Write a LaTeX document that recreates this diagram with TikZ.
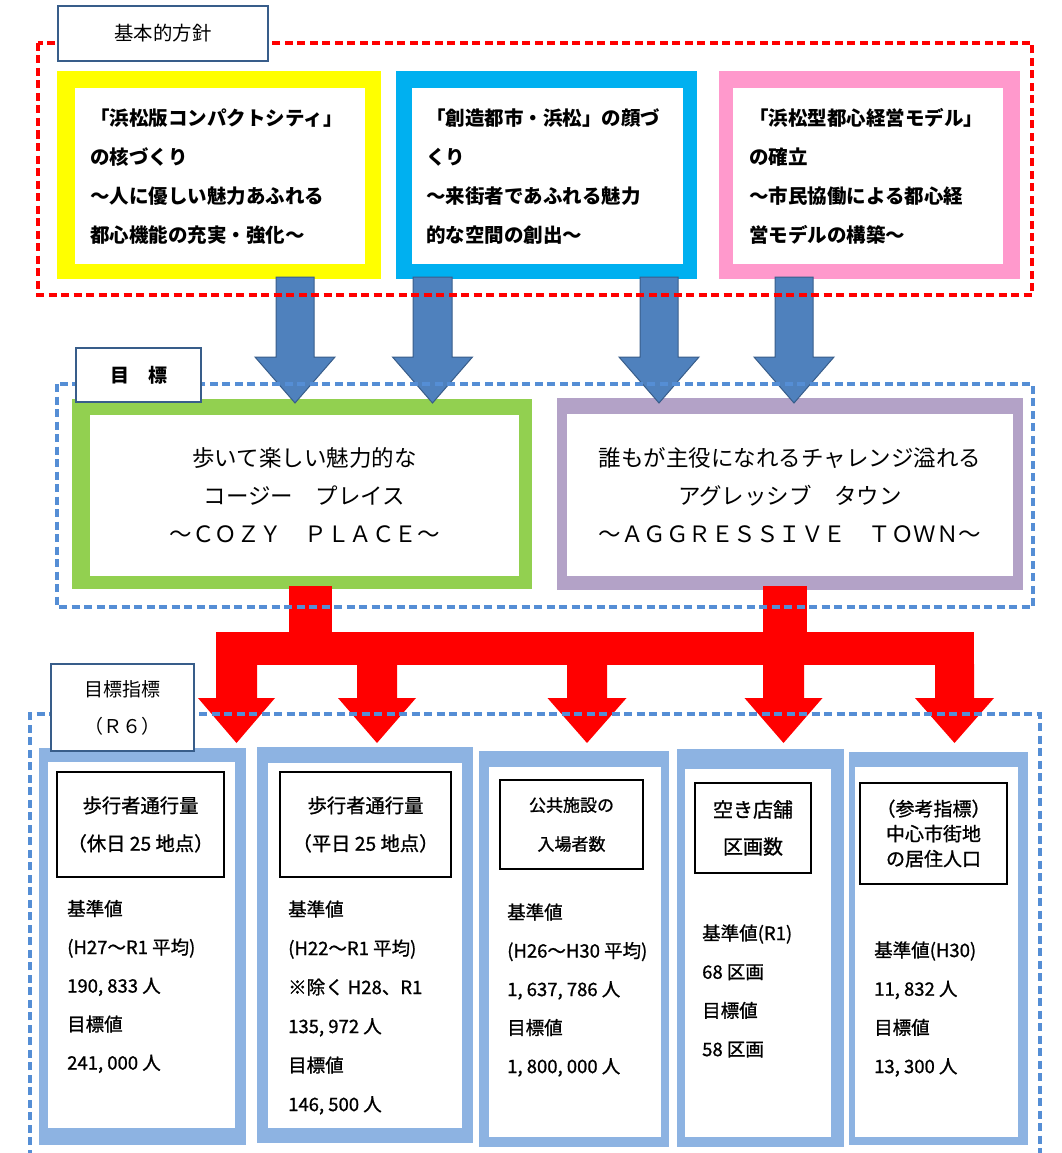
\documentclass[tikz,border=0pt]{standalone}
\usepackage{fontspec}
\setmainfont{Noto Sans CJK JP}
\newfontfamily\jp{Noto Sans CJK JP}
\newfontfamily\jpm{Noto Sans CJK JP}[FakeBold=1]
\definecolor{cyel}{HTML}{FFFF00}
\definecolor{cblu}{HTML}{00B0F0}
\definecolor{cpnk}{HTML}{FF99CC}
\definecolor{cgrn}{HTML}{92D050}
\definecolor{cpur}{HTML}{B3A2C7}
\definecolor{clb}{HTML}{8DB3E2}
\definecolor{dashblue}{HTML}{558ED5}
\definecolor{lblborder}{HTML}{385D8A}
\definecolor{barfill}{HTML}{4F81BD}
\definecolor{barline}{HTML}{385D8A}
\newcommand\myvarrow[7]{\path[#1] ({#2-#3},#5) -- ({#2+#3},#5) -- ({#2+#3},#6) -- ({#2+#4},#6) -- (#2,#7) -- ({#2-#4},#6) -- ({#2-#3},#6) -- cycle;}
\tikzset{
  frameR/.style={draw=red, line width=3.5pt, dash pattern=on 8pt off 4.5pt},
  frameB/.style={draw=dashblue, line width=3.2pt, dash pattern=on 8pt off 4.5pt},
  lbl/.style={draw=lblborder, fill=white, line width=2pt, inner sep=0pt, anchor=north west},
  barrow/.style={fill=barfill, draw=barline, line width=1pt},
  rarrow/.style={fill=red},
  topt/.style={font={\jp\bfseries\fontsize{19.5}{39}\selectfont}, align=left, inner sep=0pt, anchor=west},
  midt/.style={font={\jp\fontsize{22.5}{38}\selectfont}, align=center, inner sep=0pt},
  ttl/.style={draw=black, fill=white, line width=2pt, inner sep=0pt, anchor=north west, align=center},
  bodyt/.style={font={\jpm\fontsize{18.5}{38.5}\selectfont}, align=left, inner sep=0pt, anchor=west},
}
\begin{document}
\begin{tikzpicture}[x=1pt,y=-1pt]
\useasboundingbox (0,0) rectangle (1062,1153);
% ---------- top policy boxes
\fill[cyel] (57,71) rectangle (381,279);
\fill[white] (75,88) rectangle (365,264);
\fill[cblu] (396,71) rectangle (697,279);
\fill[white] (412,88) rectangle (683,264);
\fill[cpnk] (719,71) rectangle (1020,279);
\fill[white] (733,88) rectangle (1003,264);
\node[topt] (p1) at (90,176.5) {「浜松版コンパクトシティ」\\の核づくり\\～人に優しい魅力あふれる\\都心機能の充実・強化～};
\node[topt] (p2) at (426,176.5) {「創造都市・浜松」の顔づ\\くり\\～来街者であふれる魅力\\的な空間の創出～};
\node[topt] (p3) at (749,176.5) {「浜松型都心経営モデル」\\の確立\\～市民協働による都心経\\営モデルの構築～};
% ---------- goal boxes
\fill[cgrn] (72,399) rectangle (532,589);
\fill[white] (90,415) rectangle (519,576);
\fill[cpur] (557,398) rectangle (1023,590);
\fill[white] (567,414) rectangle (1013,576);
\node[midt] (g1) at (304.5,495) {歩いて楽しい魅力的な\\コージー　プレイス\\～ＣＯＺＹ　ＰＬＡＣＥ～};
\node[midt] (g2) at (790,495) {誰もが主役になれるチャレンジ溢れる\\アグレッシブ　タウン\\～ＡＧＧＲＥＳＳＩＶＥ　ＴＯＷＮ～};
% ---------- blue block arrows
\myvarrow{barrow}{295}{19}{40}{277}{357}{403}
\myvarrow{barrow}{432.5}{19.5}{40}{277}{357}{403}
\myvarrow{barrow}{659}{19}{40}{277}{357}{403}
\myvarrow{barrow}{794}{19}{40}{277}{357}{403}
% ---------- red block arrows
\fill[red] (289,586) rectangle (332,665);
\fill[red] (763,586) rectangle (807,665);
\fill[red] (216,632) rectangle (974,665);
\myvarrow{rarrow}{236.5}{20.5}{38.5}{664}{698}{743}
\myvarrow{rarrow}{377}{20}{39}{664}{698}{743}
\myvarrow{rarrow}{587}{20}{39.5}{664}{698}{743}
\myvarrow{rarrow}{783.5}{20.5}{39}{664}{698}{743}
\myvarrow{rarrow}{954.5}{19.5}{39.5}{664}{698}{743}
% ---------- indicator boxes
\fill[clb] (39,748) rectangle (246,1145);
\fill[white] (48,762) rectangle (235,1128);
\fill[clb] (257,747) rectangle (473,1143);
\fill[white] (268,763) rectangle (462,1128);
\fill[clb] (479,751) rectangle (669,1147);
\fill[white] (489,767) rectangle (661,1137);
\fill[clb] (677,749) rectangle (844,1147);
\fill[white] (685,769) rectangle (831,1137);
\fill[clb] (849,752) rectangle (1028,1145);
\fill[white] (855,767) rectangle (1018,1137);
\node[ttl, minimum width=167, minimum height=105, font={\jpm\fontsize{19.3}{38}\selectfont}] (t1) at (56,771) {歩行者通行量\\（休日 25 地点）};
\node[ttl, minimum width=171, minimum height=105, font={\jpm\fontsize{19.3}{38}\selectfont}] (t2) at (279,771) {歩行者通行量\\（平日 25 地点）};
\node[ttl, minimum width=143, minimum height=89, font={\jpm\fontsize{17}{39}\selectfont}] (t3) at (499,779) {公共施設の\\入場者数};
\node[ttl, minimum width=116, minimum height=90, font={\jpm\fontsize{20}{37}\selectfont}] (t4) at (694,782) {空き店舗\\区画数};
\node[ttl, minimum width=147, minimum height=101, font={\jpm\fontsize{19}{25}\selectfont}] (t5) at (859,782) {（参考指標）\\中心市街地\\の居住人口};
\node[bodyt] (v1) at (67,986.5) {基準値\\(H27～R1 平均)\\190, 833 人\\目標値\\241, 000 人};
\node[bodyt, font={\jpm\fontsize{18.5}{39}\selectfont}] (v2) at (288,1007.5) {基準値\\(H22～R1 平均)\\※除く H28、R1\\135, 972 人\\目標値\\146, 500 人};
\node[bodyt] (v3) at (507,990) {基準値\\(H26～H30 平均)\\1, 637, 786 人\\目標値\\1, 800, 000 人};
\node[bodyt, font={\jpm\fontsize{18.5}{38.7}\selectfont}] (v4) at (702,991) {基準値(R1)\\68 区画\\目標値\\58 区画};
\node[bodyt, font={\jpm\fontsize{18.5}{38.7}\selectfont}] (v5) at (874,1009) {基準値(H30)\\11, 832 人\\目標値\\13, 300 人};
% ---------- dashed frames
\draw[frameR] (38,43) rectangle (1032,295);
\draw[frameB] (57,384) rectangle (1033,607);
\draw[frameB] (30,1170) -- (30,714) -- (1040,714) -- (1040,1170);
% ---------- labels
\node[lbl, minimum width=210, minimum height=55, font={\jp\fontsize{19.4}{24}\selectfont}] (l1) at (57,5) {基本的方針};
\node[lbl, minimum width=125, minimum height=54, font={\jp\bfseries\fontsize{19}{24}\selectfont}] (l2) at (75,347) {目　標};
\node[lbl, minimum width=143, minimum height=87, align=center, font={\jp\fontsize{19}{37}\selectfont}] (l3) at (50,663) {目標指標\\（Ｒ６）};
\end{tikzpicture}
\end{document}
